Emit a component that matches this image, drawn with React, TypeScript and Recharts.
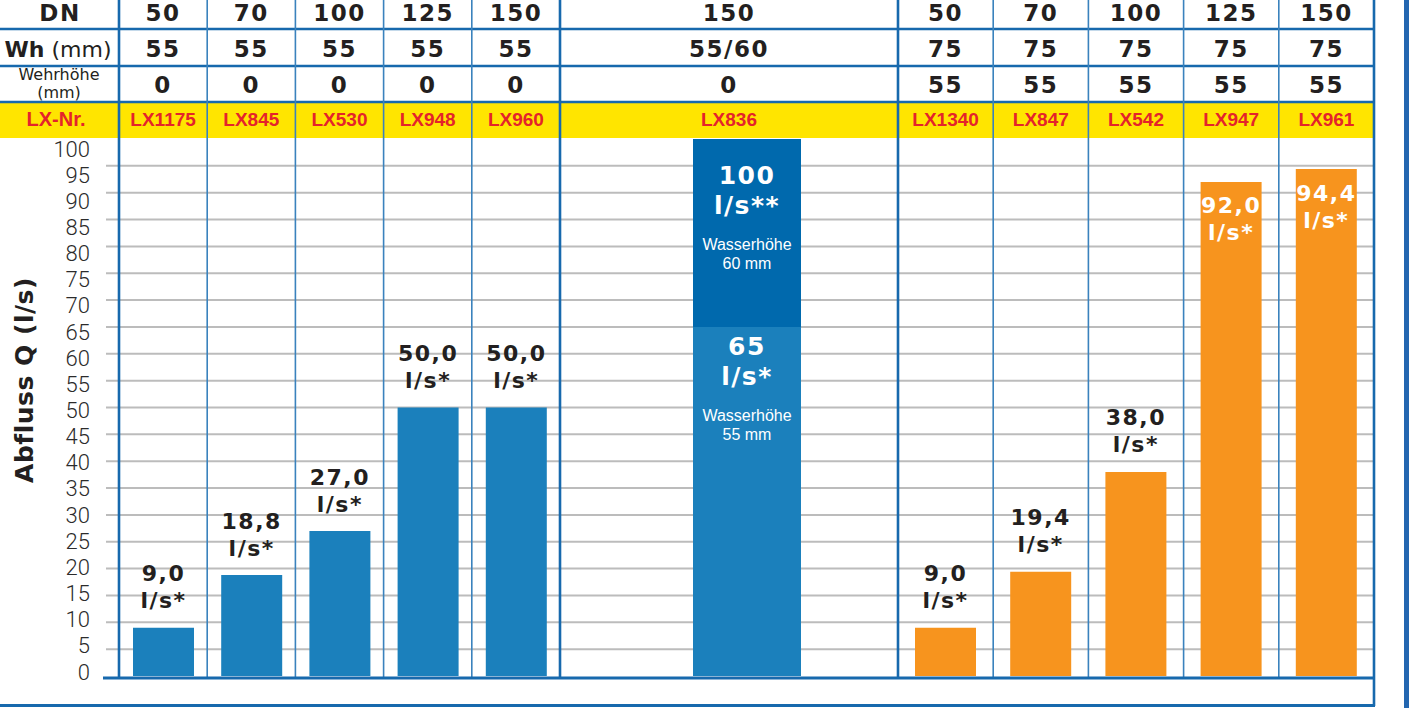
import React from 'react';
import { BarChart, Bar, XAxis, YAxis, CartesianGrid, LabelList } from 'recharts';

// Tabellenkopf (eine Spalte je Artikel)
const dn = ['50', '70', '100', '125', '150', '150', '50', '70', '100', '125', '150'];
const wh = ['55', '55', '55', '55', '55', '55/60', '75', '75', '75', '75', '75'];
const wehrhoehe = ['0', '0', '0', '0', '0', '0', '55', '55', '55', '55', '55'];
const lxNr = ['LX1175', 'LX845', 'LX530', 'LX948', 'LX960', 'LX836', 'LX1340', 'LX847', 'LX542', 'LX947', 'LX961'];

// Abfluss Q in l/s
const lxLeft = ['LX1175', 'LX845', 'LX530', 'LX948', 'LX960'];
const qLeft = [9.0, 18.8, 27.0, 50.0, 50.0];

const lxMid = ['LX836'];
const qMid55 = [65]; // Wasserhöhe 55 mm
const qMid60 = [100]; // Wasserhöhe 60 mm
const midWasserhoehe = ['55 mm', '60 mm'];

const lxRight = ['LX1340', 'LX847', 'LX542', 'LX947', 'LX961'];
const qRight = [9.0, 19.4, 38.0, 92.0, 94.4];

const yTicks = [0, 5, 10, 15, 20, 25, 30, 35, 40, 45, 50, 55, 60, 65, 70, 75, 80, 85, 90, 95, 100];

// Layout
const W = 1409;
const H = 708;
const PLOT_TOP = 139;
const PLOT_BOTTOM = 676;
const PAD = 12; // Platz oberhalb/unterhalb der Zeichenfläche für die Skalenzahlen
const CHART_H = PLOT_BOTTOM - PLOT_TOP + 2 * PAD;
const AXIS_W = 106;
const COL_X = 119;
const LEFT_END = 560;
const MID_END = 898;
const RIGHT_END = 1374;
const chartMargin = { top: PAD, right: 0, bottom: PAD, left: 0 };

const DARK = '#231f20';
const BLUE = '#1b80bc';
const BLUE_DARK = '#0069ad';
const ORANGE = '#f7941e';
const YELLOW = '#ffe500';
const RED = '#e4232b';
const LINE = '#1769ad';
const LINE_THIN = '#3a82bd';

const leftData = lxLeft.map((lx, i) => ({ lx, q: qLeft[i] }));
const midData = lxMid.map((lx, i) => ({
  lx,
  q55: qMid55[i],
  diff: qMid60[i] - qMid55[i],
  q60: qMid60[i],
}));
const rightData = lxRight.map((lx, i) => ({ lx, q: qRight[i] }));
const gridValues = yTicks.filter((v) => v > 0 && v < 100);

const boldWide: React.CSSProperties = {
  fontFamily: 'DejaVu Sans',
  fontWeight: 700,
  fontSize: 22,
  letterSpacing: 1.5,
};
const headNum: React.CSSProperties = { ...boldWide, fontSize: 23 };

const fmt = (v: number) => v.toFixed(1).replace('.', ',');

// im Original sitzen die Skalenzahlen oben etwas tiefer als ihre Rasterlinie
function YTick(props: any) {
  const v = Number(props.payload.value);
  const dy = -4 + 0.14 * v;
  return (
    <text
      x={Number(props.x)}
      y={Number(props.y) + dy}
      textAnchor="end"
      dominantBaseline="central"
      fill="#2b2b2b"
      style={{ fontFamily: 'Roboto', fontWeight: 300, fontSize: 22 }}
    >
      {v}
    </text>
  );
}

// Wertbeschriftung über dem Balken (bzw. im Balken, wenn kein Platz ist)
function ValueLabel(props: any) {
  const x = Number(props.x);
  const y = Number(props.y);
  const w = Number(props.width);
  const v = Number(props.value);
  const cx = x + w / 2;
  const inside = v > 80;
  const fill = inside ? '#fff' : DARK;
  const y1 = inside ? y + 24 : y - 54;
  return (
    <g>
      <text x={cx} y={y1} textAnchor="middle" dominantBaseline="central" fill={fill} style={boldWide}>
        {fmt(v)}
      </text>
      <text x={cx} y={y1 + 27} textAnchor="middle" dominantBaseline="central" fill={fill} style={boldWide}>
        l/s*
      </text>
    </g>
  );
}

const makeMidLabel = (stars: string, water: string, dy: number) => (props: any) => {
  const x = Number(props.x);
  const y = Number(props.y);
  const w = Number(props.width);
  const cx = x + w / 2;
  const big: React.CSSProperties = { ...boldWide, fontSize: 25 };
  const small: React.CSSProperties = { fontFamily: 'Liberation Sans', fontSize: 16 };
  return (
    <g fill="#fff">
      <text x={cx} y={y + dy} textAnchor="middle" dominantBaseline="central" style={big}>
        {props.value}
      </text>
      <text x={cx} y={y + dy + 30} textAnchor="middle" dominantBaseline="central" style={big}>
        {'l/s' + stars}
      </text>
      <text x={cx} y={y + dy + 69} textAnchor="middle" dominantBaseline="central" style={small}>
        Wasserhöhe
      </text>
      <text x={cx} y={y + dy + 88} textAnchor="middle" dominantBaseline="central" style={small}>
        {water}
      </text>
    </g>
  );
};

const leftBand = (LEFT_END - COL_X) / lxLeft.length;
const rightBand = (RIGHT_END - MID_END) / lxRight.length;
const bounds = [
  COL_X,
  ...lxLeft.map((_, i) => COL_X + (i + 1) * leftBand),
  ...lxRight.map((_, i) => MID_END + i * rightBand),
  RIGHT_END,
];
const thick = [COL_X, LEFT_END, MID_END, RIGHT_END];
const centers = bounds.slice(0, -1).map((b, i) => (b + bounds[i + 1]) / 2);

const rowY = { dn: 13, wh: 49, wehr: 85, lx: 119 };

export default function App() {
  return (
    <div
      style={{
        position: 'absolute',
        left: 0,
        top: 0,
        width: W,
        height: H,
        background: '#fff',
        overflow: 'hidden',
      }}
    >
      {/* Wh 55 mm, Wehrhöhe 0 */}
      <div style={{ position: 'absolute', left: 0, top: PLOT_TOP - PAD }}>
        <BarChart width={LEFT_END} height={CHART_H} data={leftData} margin={chartMargin}>
          <XAxis dataKey="lx" hide padding={{ left: COL_X - AXIS_W, right: 0 }} />
          <YAxis
            yAxisId="q"
            width={AXIS_W}
            domain={[0, 100]}
            ticks={yTicks}
            interval={0}
            tickLine={false}
            axisLine={false}
            tickMargin={10}
            tick={YTick}
          />
          <CartesianGrid yAxisId="q" vertical={false} horizontalValues={gridValues} stroke="#bcbcbc" strokeWidth={2} />
          <Bar yAxisId="q" dataKey="q" fill={BLUE} barSize={61} isAnimationActive={false}>
            <LabelList dataKey="q" content={ValueLabel} />
          </Bar>
        </BarChart>
      </div>

      {/* LX836, Wh 55/60 */}
      <div style={{ position: 'absolute', left: LEFT_END, top: PLOT_TOP - PAD }}>
        <BarChart width={MID_END - LEFT_END} height={CHART_H} data={midData} margin={chartMargin}>
          <XAxis dataKey="lx" hide padding={{ left: 36, right: 0 }} />
          <YAxis yAxisId="q" hide domain={[0, 100]} />
          <CartesianGrid yAxisId="q" vertical={false} horizontalValues={gridValues} stroke="#bcbcbc" strokeWidth={2} />
          <Bar yAxisId="q" dataKey="q55" stackId="m" fill={BLUE} barSize={108} isAnimationActive={false}>
            <LabelList dataKey="q55" content={makeMidLabel('*', midWasserhoehe[0], 20)} />
          </Bar>
          <Bar yAxisId="q" dataKey="diff" stackId="m" fill={BLUE_DARK} barSize={108} isAnimationActive={false}>
            <LabelList dataKey="q60" content={makeMidLabel('**', midWasserhoehe[1], 36)} />
          </Bar>
        </BarChart>
      </div>

      {/* Wh 75 mm, Wehrhöhe 55 */}
      <div style={{ position: 'absolute', left: MID_END, top: PLOT_TOP - PAD }}>
        <BarChart width={RIGHT_END - MID_END} height={CHART_H} data={rightData} margin={chartMargin}>
          <XAxis dataKey="lx" hide />
          <YAxis yAxisId="q" hide domain={[0, 100]} />
          <CartesianGrid yAxisId="q" vertical={false} horizontalValues={gridValues} stroke="#bcbcbc" strokeWidth={2} />
          <Bar yAxisId="q" dataKey="q" fill={ORANGE} barSize={61} isAnimationActive={false}>
            <LabelList dataKey="q" content={ValueLabel} />
          </Bar>
        </BarChart>
      </div>

      {/* Tabellenraster und Kopfzeilen */}
      <svg width={W} height={H} style={{ position: 'absolute', left: 0, top: 0, pointerEvents: 'none' }}>
        <rect x={0} y={102} width={RIGHT_END} height={PLOT_TOP - 103} fill={YELLOW} />
        {[29, 66, 102].map((y) => (
          <line key={y} x1={0} x2={RIGHT_END} y1={y} y2={y} stroke={LINE} strokeWidth={2.5} />
        ))}
        {bounds.map((x, i) => {
          const isThick = thick.includes(x);
          return (
            <line
              key={i}
              x1={x}
              x2={x}
              y1={0}
              y2={x === RIGHT_END ? 706 : 678}
              stroke={isThick ? LINE : LINE_THIN}
              strokeWidth={isThick ? 2.6 : 1.6}
            />
          );
        })}
        <line x1={103} x2={RIGHT_END} y1={678} y2={678} stroke={LINE} strokeWidth={3} />
        <line x1={0} x2={RIGHT_END + 1} y1={705.5} y2={705.5} stroke={LINE} strokeWidth={3} />
        <rect x={1404} y={0} width={5} height={H} fill="#2366b0" />

        {/* erste Spalte */}
        <text x={60} y={rowY.dn} textAnchor="middle" dominantBaseline="central" fill={DARK} style={headNum}>
          DN
        </text>
        <text x={58} y={rowY.wh} textAnchor="middle" dominantBaseline="central" fill={DARK} style={{ fontFamily: 'DejaVu Sans', fontSize: 22 }}>
          <tspan fontWeight={700}>Wh</tspan>
          <tspan> (mm)</tspan>
        </text>
        <text x={59} y={74} textAnchor="middle" dominantBaseline="central" fill={DARK} style={{ fontFamily: 'DejaVu Sans', fontSize: 16 }}>
          Wehrhöhe
        </text>
        <text x={59} y={92} textAnchor="middle" dominantBaseline="central" fill={DARK} style={{ fontFamily: 'DejaVu Sans', fontSize: 16 }}>
          (mm)
        </text>
        <text x={56} y={rowY.lx} textAnchor="middle" dominantBaseline="central" fill={RED} style={{ fontFamily: 'Liberation Sans', fontWeight: 700, fontSize: 20 }}>
          LX-Nr.
        </text>

        {centers.map((cx, i) => (
          <g key={i}>
            <text x={cx} y={rowY.dn} textAnchor="middle" dominantBaseline="central" fill={DARK} style={headNum}>
              {dn[i]}
            </text>
            <text x={cx} y={rowY.wh} textAnchor="middle" dominantBaseline="central" fill={DARK} style={headNum}>
              {wh[i]}
            </text>
            <text x={cx} y={rowY.wehr} textAnchor="middle" dominantBaseline="central" fill={DARK} style={headNum}>
              {wehrhoehe[i]}
            </text>
            <text x={cx} y={rowY.lx} textAnchor="middle" dominantBaseline="central" fill={RED} style={{ fontFamily: 'Liberation Sans', fontWeight: 700, fontSize: 19 }}>
              {lxNr[i]}
            </text>
          </g>
        ))}

        <text
          x={24}
          y={380}
          transform="rotate(-90, 24, 380)"
          textAnchor="middle"
          dominantBaseline="central"
          fill={DARK}
          style={{ fontFamily: 'DejaVu Sans', fontWeight: 700, fontSize: 25, letterSpacing: 0.5 }}
        >
          Abfluss Q (l/s)
        </text>
      </svg>
    </div>
  );
}
